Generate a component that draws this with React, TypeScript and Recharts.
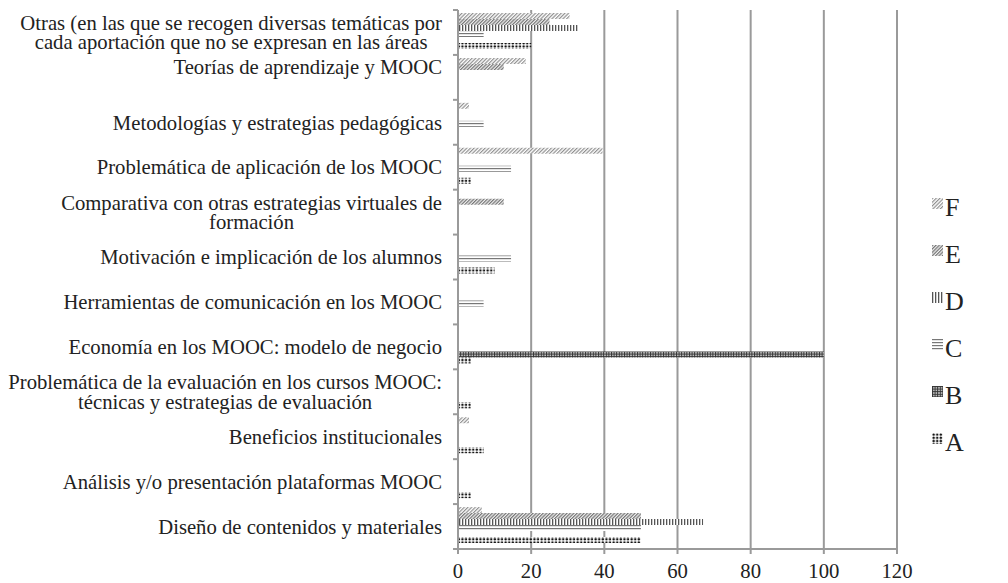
import React from 'react';
import { BarChart, Bar, XAxis, YAxis, CartesianGrid, Legend } from 'recharts';

// categories, top to bottom
const CATEGORIES = [
  'Otras (en las que se recogen diversas temáticas por\ncada aportación que no se expresan en las áreas',
  'Teorías de aprendizaje y MOOC',
  'Metodologías y estrategias pedagógicas',
  'Problemática de aplicación de los MOOC',
  'Comparativa con otras estrategias virtuales de\nformación',
  'Motivación e implicación de los alumnos',
  'Herramientas de comunicación en los MOOC',
  'Economía en los MOOC: modelo de negocio',
  'Problemática de la evaluación en los cursos MOOC:\ntécnicas y estrategias de evaluación',
  'Beneficios institucionales',
  'Análisis y/o presentación plataformas MOOC',
  'Diseño de contenidos y materiales',
];

const SERIES_F = [30.5, 18.5, 3, 39.5, 0, 0, 0, 0, 0, 3, 0, 6.5];
const SERIES_E = [25, 12.5, 0, 0, 12.5, 0, 0, 0, 0, 0, 0, 50];
const SERIES_D = [33, 0, 0, 0, 0, 0, 0, 0, 0, 0, 0, 67];
const SERIES_C = [7, 0, 7, 14.5, 0, 14.5, 7, 0, 0, 0, 0, 50];
const SERIES_B = [0, 0, 0, 0, 0, 0, 0, 100, 0, 0, 0, 0];
const SERIES_A = [20, 0, 0, 3.5, 0, 10, 0, 3.5, 3.5, 7, 3.5, 50];

const SERIES_KEYS = ['F', 'E', 'D', 'C', 'B', 'A'];
const X_TICKS = [0, 20, 40, 60, 80, 100, 120];

const data = CATEGORIES.map((name, i) => ({
  name,
  F: SERIES_F[i],
  E: SERIES_E[i],
  D: SERIES_D[i],
  C: SERIES_C[i],
  B: SERIES_B[i],
  A: SERIES_A[i],
}));

const FONT = "'Liberation Serif', 'Times New Roman', serif";
const FONT_SIZE = 20.7;
const GREY = '#9a9a9a';
const TEXT = '#222';

const PLOT_TOP = 10;
const PLOT_BOTTOM = 549;
const BAND = (PLOT_BOTTOM - PLOT_TOP) / CATEGORIES.length;

let ctx: CanvasRenderingContext2D | null = null;
function textWidth(s: string) {
  if (!ctx) ctx = document.createElement('canvas').getContext('2d');
  if (!ctx) return s.length * 8;
  ctx.font = `${FONT_SIZE}px ${FONT}`;
  return ctx.measureText(s).width;
}

function CategoryTick(props: any) {
  const { x, y, payload, index } = props;
  const label = String(payload.value);
  const lines = label.split('\n');
  // the Teorías label sits higher than its band in the original
  const shift = label.startsWith('Teorías') ? -11 : 0;
  const axisX = x + 16;
  const w = Math.max(...lines.map(textWidth));
  return (
    <g>
      <line x1={axisX - 5} x2={axisX} y1={y - BAND / 2} y2={y - BAND / 2} stroke={GREY} strokeWidth={2} />
      {index === CATEGORIES.length - 1 && (
        <line x1={axisX - 5} x2={axisX} y1={y + BAND / 2} y2={y + BAND / 2} stroke={GREY} strokeWidth={2} />
      )}
      {lines.length === 1 ? (
        <text x={x} y={y + shift} dy="0.35em" textAnchor="end" fontSize={FONT_SIZE} fontFamily={FONT} fill={TEXT}>
          {label}
        </text>
      ) : (
        lines.map((ln, i) => (
          <text
            key={i}
            x={x - w / 2}
            y={y + shift + (i - (lines.length - 1) / 2) * 19.5}
            dy="0.35em"
            textAnchor="middle"
            fontSize={FONT_SIZE}
            fontFamily={FONT}
            fill={TEXT}
          >
            {ln}
          </text>
        ))
      )}
    </g>
  );
}

function Patterns() {
  return (
    <defs>
      <pattern id="patF" width="2.6" height="2.6" patternUnits="userSpaceOnUse" patternTransform="rotate(45)">
        <rect width="2.6" height="2.6" fill="#fff" />
        <rect width="1.2" height="2.6" fill="#909090" />
      </pattern>
      <pattern id="patE" width="2.4" height="2.4" patternUnits="userSpaceOnUse" patternTransform="rotate(45)">
        <rect width="2.4" height="2.4" fill="#eee" />
        <rect width="1.2" height="2.4" fill="#777" />
      </pattern>
      <pattern id="patD" width="3" height="3" patternUnits="userSpaceOnUse">
        <rect width="3" height="3" fill="#fff" />
        <rect width="1.3" height="3" fill="#555" />
      </pattern>
      <pattern id="patC" width="3" height="3" patternUnits="userSpaceOnUse">
        <rect width="3" height="3" fill="#fff" />
        <rect width="3" height="1.2" fill="#777" />
      </pattern>
      <pattern id="patB" width="2.6" height="2.6" patternUnits="userSpaceOnUse">
        <rect width="2.6" height="2.6" fill="#ccc" />
        <rect width="1" height="2.6" fill="#333" />
        <rect width="2.6" height="1" fill="#333" />
      </pattern>
      <pattern id="patA" width="3.6" height="3.2" patternUnits="userSpaceOnUse">
        <rect width="3.6" height="3.2" fill="#fff" />
        <circle cx="1.6" cy="1.6" r="1.25" fill="#111" />
      </pattern>
    </defs>
  );
}

function LegendContent() {
  return (
    <div style={{ fontFamily: FONT, color: TEXT, position: 'relative', height: 47 * SERIES_KEYS.length }}>
      {SERIES_KEYS.map((k, i) => (
        <div
          key={k}
          style={{ position: 'absolute', left: 0, top: i * 47, height: 26, display: 'flex', alignItems: 'flex-start' }}
        >
          <svg width={11} height={11} style={{ marginTop: 3, marginRight: 2 }}>
            <rect width={11} height={11} fill={`url(#pat${k})`} />
          </svg>
          <span style={{ fontSize: 26, lineHeight: '26px' }}>{k}</span>
        </div>
      ))}
    </div>
  );
}

export default function App() {
  return (
    <div style={{ position: 'absolute', left: 0, top: 0, background: '#fff' }}>
      <BarChart
        width={1008}
        height={583}
        data={data}
        layout="vertical"
        margin={{ top: PLOT_TOP, right: 111, bottom: 0, left: 0 }}
        barCategoryGap={3}
        barGap={0}
      >
        <Patterns />
        <CartesianGrid horizontal={false} stroke={GREY} strokeWidth={2} />
        <XAxis
          type="number"
          domain={[0, 120]}
          ticks={X_TICKS}
          height={34}
          tickSize={5}
          tickMargin={9}
          axisLine={{ stroke: GREY, strokeWidth: 2 }}
          tickLine={{ stroke: GREY, strokeWidth: 2 }}
          tick={{ fontSize: FONT_SIZE, fontFamily: FONT, fill: TEXT }}
        />
        <YAxis
          type="category"
          dataKey="name"
          width={458}
          interval={0}
          tickSize={5}
          tickMargin={11}
          tickLine={false}
          axisLine={{ stroke: GREY, strokeWidth: 2 }}
          tick={<CategoryTick />}
        />
        <Legend
          layout="vertical"
          align="center"
          verticalAlign="middle"
          wrapperStyle={{ left: 932, top: 195, width: 60 }}
          content={<LegendContent />}
        />
        {SERIES_KEYS.map((k) => (
          <Bar key={k} dataKey={k} name={k} fill={`url(#pat${k})`} isAnimationActive={false} />
        ))}
      </BarChart>
    </div>
  );
}
